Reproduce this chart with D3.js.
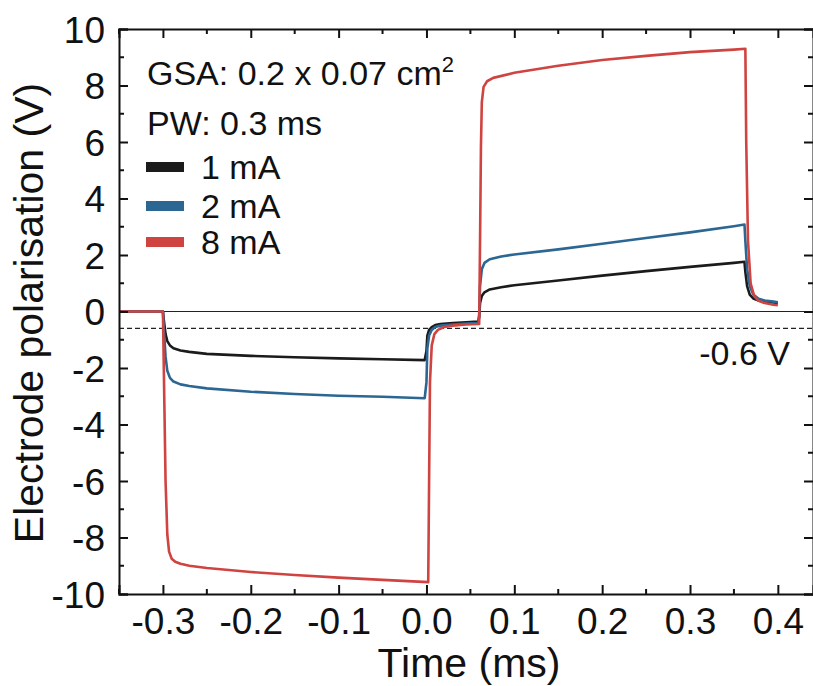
<!DOCTYPE html>
<html>
<head>
<meta charset="utf-8">
<script src="https://cdn.jsdelivr.net/npm/d3@7"></script>
<style>
  html, body { margin: 0; padding: 0; background: #fff; }
  svg { display: block; font-family: "Liberation Sans", Arial, sans-serif; }
</style>
</head>
<body>
<svg id="chart" width="813" height="686"></svg>
<script>
// ---- data ----
const seriesNames = ['1 mA', '2 mA', '8 mA'];
const seriesColors = ['#1b1b1b', '#2b6792', '#cf4440'];

const t1 = [-0.35, -0.3, -0.299, -0.297, -0.295, -0.292, -0.288, -0.28, -0.27, -0.25, -0.2, -0.15, -0.1, -0.05, -0.002,
  0.0, 0.001, 0.003, 0.006, 0.01, 0.016, 0.03, 0.045, 0.059, 0.06, 0.061, 0.063, 0.066, 0.072, 0.085, 0.1, 0.15, 0.2, 0.25, 0.3, 0.35, 0.362,
  0.363, 0.365, 0.368, 0.372, 0.378, 0.385, 0.395, 0.4];
const v1 = [0, 0, -0.3, -0.8, -1.05, -1.2, -1.3, -1.38, -1.43, -1.5, -1.57, -1.62, -1.66, -1.69, -1.72,
  -1.4, -0.85, -0.65, -0.55, -0.48, -0.44, -0.41, -0.38, -0.36, -0.2, 0.3, 0.55, 0.68, 0.78, 0.86, 0.93, 1.1, 1.27, 1.43, 1.58, 1.72, 1.76,
  1.4, 0.9, 0.6, 0.46, 0.39, 0.35, 0.32, 0.3];

const t2 = [-0.35, -0.3, -0.299, -0.297, -0.295, -0.292, -0.288, -0.28, -0.27, -0.25, -0.2, -0.15, -0.1, -0.05, -0.002,
  0.0, 0.001, 0.003, 0.006, 0.01, 0.016, 0.03, 0.045, 0.059, 0.06, 0.061, 0.063, 0.066, 0.072, 0.085, 0.1, 0.15, 0.2, 0.25, 0.3, 0.35, 0.362,
  0.363, 0.365, 0.368, 0.372, 0.378, 0.385, 0.395, 0.4];
const v2 = [0, 0, -0.6, -1.6, -2.1, -2.35, -2.48, -2.58, -2.64, -2.72, -2.84, -2.92, -2.98, -3.02, -3.07,
  -2.5, -1.3, -0.85, -0.65, -0.55, -0.5, -0.46, -0.43, -0.41, -0.1, 0.9, 1.5, 1.72, 1.85, 1.95, 2.02, 2.2, 2.4, 2.6, 2.8, 3.02, 3.08,
  2.5, 1.5, 0.9, 0.6, 0.45, 0.39, 0.35, 0.33];

const t3 = [-0.35, -0.3, -0.299, -0.297, -0.295, -0.293, -0.29, -0.286, -0.28, -0.27, -0.25, -0.2, -0.15, -0.1, -0.05, 0.002,
  0.003, 0.004, 0.006, 0.009, 0.013, 0.02, 0.03, 0.045, 0.06, 0.061, 0.062, 0.063, 0.065, 0.069, 0.076, 0.1, 0.15, 0.2, 0.25, 0.3, 0.35, 0.363,
  0.364, 0.366, 0.369, 0.373, 0.378, 0.385, 0.395, 0.4];
const v3 = [0, 0, -2.0, -6.0, -7.9, -8.5, -8.75, -8.86, -8.93, -9.0, -9.08, -9.22, -9.33, -9.42, -9.5, -9.58,
  -6.0, -2.5, -1.2, -0.8, -0.65, -0.55, -0.5, -0.46, -0.44, 2.5, 5.8, 7.4, 7.95, 8.15, 8.27, 8.45, 8.7, 8.9, 9.05, 9.18, 9.27, 9.3,
  6.0, 2.5, 1.0, 0.55, 0.38, 0.3, 0.24, 0.22];

const xTicks = [-0.3, -0.2, -0.1, 0.0, 0.1, 0.2, 0.3, 0.4];
const yTicks = [-10, -8, -6, -4, -2, 0, 2, 4, 6, 8, 10];
const refLevel = -0.6;

// ---- layout ----
const svg = d3.select('#chart');
const m = { left: 119, right: 813, top: 29, bottom: 594 };

const x = d3.scaleLinear().domain([-0.35, 0.44]).range([m.left, m.right]);
const y = d3.scaleLinear().domain([-10, 10]).range([m.bottom, m.top]);

const ink = '#111';

// zero line and -0.6 V reference
svg.append('line')
  .attr('x1', m.left).attr('x2', m.right)
  .attr('y1', y(0)).attr('y2', y(0))
  .attr('stroke', '#222').attr('stroke-width', 1);
svg.append('line')
  .attr('x1', m.left).attr('x2', m.right)
  .attr('y1', y(refLevel)).attr('y2', y(refLevel))
  .attr('stroke', '#222').attr('stroke-width', 1.2)
  .attr('stroke-dasharray', '5,3');

// curves
const seriesData = [
  t1.map((t, i) => [t, v1[i]]),
  t2.map((t, i) => [t, v2[i]]),
  t3.map((t, i) => [t, v3[i]]),
];
const line = d3.line().x(d => x(d[0])).y(d => y(d[1]));
seriesData.forEach((d, i) => {
  svg.append('path')
    .datum(d)
    .attr('fill', 'none')
    .attr('stroke', seriesColors[i])
    .attr('stroke-width', 2.6)
    .attr('stroke-linejoin', 'round')
    .attr('d', line);
});

// axes: inward ticks, frame on all four sides
const xMinor = d3.range(-0.35, 0.44, 0.05).map(v => +v.toFixed(2));
const yMinor = d3.range(-9, 10, 2);

const axB = d3.axisBottom(x).tickValues(xTicks).tickSize(-9).tickPadding(14).tickFormat(d3.format('.1f'));
const axT = d3.axisTop(x).tickValues(xTicks).tickSize(-9).tickFormat('');
const axL = d3.axisLeft(y).tickValues(yTicks).tickSize(-9).tickPadding(14).tickFormat(d3.format('d'));
const axR = d3.axisRight(y).tickValues(yTicks).tickSize(-9).tickFormat('');

const gB = svg.append('g').attr('transform', `translate(0,${m.bottom})`).call(axB);
const gT = svg.append('g').attr('transform', `translate(0,${m.top})`).call(axT);
const gL = svg.append('g').attr('transform', `translate(${m.left},0)`).call(axL);
const gR = svg.append('g').attr('transform', `translate(${m.right},0)`).call(axR);

[gB, gT, gL, gR].forEach(g => {
  g.select('.domain').attr('stroke', ink).attr('stroke-width', 2);
  g.selectAll('.tick line').attr('stroke', ink).attr('stroke-width', 2);
  g.selectAll('text').attr('fill', ink).style('font-size', '37px').style('font-family', '"Liberation Sans", Arial, sans-serif');
});
gB.selectAll('.tick text').text(d => d3.format('.1f')(d).replace('−', '-'));
gL.selectAll('.tick text').text(d => String(d)).attr('dy', '0.36em');

// minor ticks
const minorX = xMinor.filter(v => !xTicks.some(t => Math.abs(t - v) < 1e-6));
svg.append('g').selectAll('line.mb').data(minorX).join('line')
  .attr('x1', d => x(d)).attr('x2', d => x(d))
  .attr('y1', m.bottom).attr('y2', m.bottom - 5)
  .attr('stroke', ink).attr('stroke-width', 2);
svg.append('g').selectAll('line.mt').data(minorX).join('line')
  .attr('x1', d => x(d)).attr('x2', d => x(d))
  .attr('y1', m.top).attr('y2', m.top + 5)
  .attr('stroke', ink).attr('stroke-width', 2);
svg.append('g').selectAll('line.ml').data(yMinor).join('line')
  .attr('x1', m.left).attr('x2', m.left + 5)
  .attr('y1', d => y(d)).attr('y2', d => y(d))
  .attr('stroke', ink).attr('stroke-width', 2);
svg.append('g').selectAll('line.mr').data(yMinor).join('line')
  .attr('x1', m.right).attr('x2', m.right - 5)
  .attr('y1', d => y(d)).attr('y2', d => y(d))
  .attr('stroke', ink).attr('stroke-width', 2);

// axis titles
svg.append('text')
  .attr('x', (x(-0.35) + x(0.44)) / 2 + 3).attr('y', 677)
  .attr('text-anchor', 'middle')
  .style('font-size', '41px').attr('fill', ink)
  .text('Time (ms)');
svg.append('text')
  .attr('transform', `translate(43,${313}) rotate(-90)`)
  .attr('text-anchor', 'middle')
  .style('font-size', '41px').attr('fill', ink)
  .text('Electrode polarisation (V)');

// annotations
const note = svg.append('text')
  .attr('x', 147).attr('y', 85)
  .style('font-size', '34px').attr('fill', ink);
note.append('tspan').text('GSA: 0.2 x 0.07 cm');
note.append('tspan').attr('dy', -13).style('font-size', '22px').text('2');

svg.append('text')
  .attr('x', 147).attr('y', 135)
  .style('font-size', '34px').attr('fill', ink)
  .text('PW: 0.3 ms');

svg.append('text')
  .attr('x', 790).attr('y', 365)
  .attr('text-anchor', 'end')
  .style('font-size', '34px').attr('fill', ink)
  .text('-0.6 V');

// legend
const legY = [167, 206, 242];
const leg = svg.append('g');
seriesNames.forEach((name, i) => {
  leg.append('rect')
    .attr('x', 146).attr('y', legY[i] - 5)
    .attr('width', 38).attr('height', 10)
    .attr('fill', seriesColors[i]);
  leg.append('text')
    .attr('x', 201).attr('y', legY[i] + 12)
    .style('font-size', '34px').attr('fill', ink)
    .text(name);
});
</script>
</body>
</html>
